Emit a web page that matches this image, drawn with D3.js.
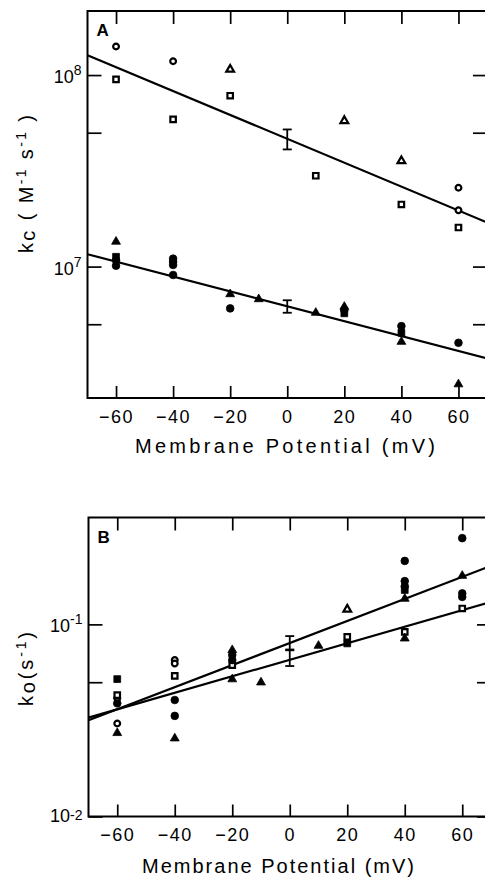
<!DOCTYPE html>
<html>
<head>
<meta charset="UTF-8">
<title>kc and ko vs membrane potential</title>
<style>
  body { margin: 0; background: #fff; }
  svg text { font-family: "Liberation Sans", Arial, sans-serif; fill: #000; }
  .tick line { stroke: #000; stroke-width: 1.7; }
  .domain { display: none; }
</style>
</head>
<body>
<script src="https://cdn.jsdelivr.net/npm/d3@7"></script>
<script>
// ---- axis ticks ----
var mvTicks = [-60, -40, -20, 0, 20, 40, 60];
var kcTicks = [5e6, 1e7, 5e7, 1e8];
var koTicks = [1e-2, 5e-2, 1e-1];
var kcLabels = [{v: 1e8, exp: "8"}, {v: 1e7, exp: "7"}];
var koLabels = [{v: 1e-1, exp: "-1"}, {v: 1e-2, exp: "-2"}];

// ---- panel A: kc (M-1 s-1), [mV, value] ----
var kcOpenCircle = [[-60, 1.41e8], [-40, 1.18e8], [60, 2.58e7], [60, 1.97e7]];
var kcOpenSquare = [[-60, 9.5e7], [-40, 5.87e7], [-20, 7.8e7], [10, 2.98e7], [40, 2.11e7], [60, 1.6e7]];
var kcOpenTri = [[-20, 1.07e8], [20, 5.77e7], [40, 3.56e7]];
var kcFillCircle = [[-60, 1.08e7], [-60, 1.01e7], [-40, 1.1e7], [-40, 1.06e7], [-40, 1.02e7], [-40, 9.04e6],
                    [-20, 6.05e6], [20, 5.93e6], [40, 4.89e6], [60, 4.0e6]];
var kcFillSquare = [[-60, 1.125e7], [20, 5.7e6], [40, 4.51e6]];
var kcFillTri = [[-60, 1.35e7], [-20, 7.18e6], [-10, 6.76e6], [10, 5.74e6], [20, 6.17e6], [40, 4.05e6], [60, 2.43e6]];
var kcFitUpper = [[-70, 1.27e8], [70, 1.70e7]];
var kcFitLower = [[-70, 1.16e7], [70, 3.32e6]];
var kcErr = [[0, 4.09e7, 5.2e7], [0, 5.74e6, 6.67e6]];   // mV, low, high

// ---- panel B: ko (s-1) ----
var koOpenCircle = [[-60, 0.0412], [-60, 0.0305], [-40, 0.0652], [-40, 0.0626]];
var koOpenSquare = [[-60, 0.0428], [-40, 0.054], [-20, 0.0614], [20, 0.0862], [40, 0.0915], [60, 0.121]];
var koOpenTri = [[20, 0.1197]];
var koFillCircle = [[-60, 0.0388], [-40, 0.0404], [-40, 0.0334], [-20, 0.0692], [-20, 0.0652],
                    [40, 0.214], [40, 0.168], [40, 0.158], [60, 0.281], [60, 0.145], [60, 0.139]];
var koFillSquare = [[-60, 0.0519], [20, 0.0796], [40, 0.151]];
var koFillTri = [[-60, 0.0272], [-40, 0.0255], [-20, 0.0735], [-20, 0.0518], [-10, 0.0499], [10, 0.0774],
                 [40, 0.136], [40, 0.0845], [60, 0.179]];
var koFitSteep = [[-70, 0.0317], [70, 0.2018]];
var koFitShallow = [[-70, 0.0327], [70, 0.131]];
var koErr = [[0, 0.074, 0.0869], [0, 0.0607, 0.0733]];

var svg = d3.select("body").append("svg")
    .attr("width", 485)
    .attr("height", 879);

function drawPanel(p) {
    var x = d3.scaleLinear().domain([-70, 70]).range(p.xr);
    var y = d3.scaleLog().domain(p.yd).range(p.yr);
    var g = svg.append("g");

    g.append("clipPath").attr("id", p.id + "clip")
        .append("rect")
        .attr("x", p.xr[0]).attr("y", p.yr[1])
        .attr("width", p.xr[1] - p.xr[0]).attr("height", p.yr[0] - p.yr[1]);

    // inward ticks on all four sides
    g.append("g").attr("transform", "translate(0," + p.yr[0] + ")")
        .call(d3.axisBottom(x).tickValues(mvTicks).tickSizeInner(-12).tickSizeOuter(0).tickPadding(12)
            .tickFormat(d3.format("d")))
        .selectAll("text")
        .style("font-size", "18px")
        .style("letter-spacing", "1.5px");
    g.append("g").attr("transform", "translate(0," + p.yr[1] + ")")
        .call(d3.axisTop(x).tickValues(mvTicks).tickSizeInner(-13).tickSizeOuter(0).tickFormat(""));
    g.append("g").attr("transform", "translate(" + p.xr[0] + ",0)")
        .call(d3.axisLeft(y).tickValues(p.yTicks).tickSizeInner(-14).tickSizeOuter(0).tickFormat(""));
    g.append("g").attr("transform", "translate(" + p.xr[1] + ",0)")
        .call(d3.axisRight(y).tickValues(p.yTicks).tickSizeInner(-14).tickSizeOuter(0).tickFormat(""));

    // frame
    g.append("rect")
        .attr("x", p.xr[0]).attr("y", p.yr[1])
        .attr("width", p.xr[1] - p.xr[0]).attr("height", p.yr[0] - p.yr[1])
        .attr("fill", "none").attr("stroke", "#000").attr("stroke-width", 2);

    // decade labels with superscripts
    p.labels.forEach(function (d) {
        var t = g.append("text")
            .attr("x", p.xr[0] - 6)
            .attr("y", y(d.v) + (d.v === p.yd[0] ? 5 : 8))
            .attr("text-anchor", "end")
            .style("font-size", "18px");
        t.append("tspan").text("10");
        t.append("tspan").attr("dy", d.v === p.yd[0] ? -2 : -8).style("font-size", "14px").text(d.exp);
    });

    // fit lines
    var line = d3.line().x(function (d) { return x(d[0]); }).y(function (d) { return y(d[1]); });
    p.fits.forEach(function (f) {
        g.append("path").datum(f)
            .attr("clip-path", "url(#" + p.id + "clip)")
            .attr("fill", "none").attr("stroke", "#000").attr("stroke-width", 2.2)
            .attr("d", line);
    });

    // error bars
    p.err.forEach(function (e) {
        var cx = x(e[0]);
        g.append("line").attr("x1", cx).attr("x2", cx).attr("y1", y(e[1])).attr("y2", y(e[2]))
            .attr("stroke", "#000").attr("stroke-width", 1.8);
        [e[1], e[2]].forEach(function (v) {
            g.append("line").attr("x1", cx - 4.5).attr("x2", cx + 4.5).attr("y1", y(v)).attr("y2", y(v))
                .attr("stroke", "#000").attr("stroke-width", 1.8);
        });
    });

    // markers
    var kinds = [
        {data: p.oc, type: d3.symbolCircle, size: 26, filled: false},
        {data: p.os, type: d3.symbolSquare, size: 30, filled: false},
        {data: p.ot, type: d3.symbolTriangle, size: 26, filled: false},
        {data: p.fc, type: d3.symbolCircle, size: 46, filled: true},
        {data: p.fs, type: d3.symbolSquare, size: 46, filled: true},
        {data: p.ft, type: d3.symbolTriangle, size: 34, filled: true}
    ];
    kinds.forEach(function (k) {
        g.selectAll(null).data(k.data).enter().append("path")
            .attr("transform", function (d) { return "translate(" + x(d[0]) + "," + y(d[1]) + ")"; })
            .attr("d", d3.symbol().type(k.type).size(k.size))
            .attr("fill", k.filled ? "#000" : "#fff")
            .attr("stroke", "#000")
            .attr("stroke-width", k.filled ? 0.8 : 2.2);
    });

    // panel letter
    g.append("text").attr("x", p.xr[0] + 9).attr("y", p.yr[1] + 25)
        .style("font-size", "17px").style("font-weight", "bold").text(p.letter);

    // x title
    g.append("text").attr("x", p.titleX).attr("y", p.titleY)
        .attr("text-anchor", "middle")
        .attr("textLength", p.titleW).attr("lengthAdjust", "spacing")
        .style("font-size", "20px")
        .text("Membrane Potential (mV)");

    // y title, rotated
    var yt = g.append("text")
        .attr("transform", "translate(" + p.yTitleX + "," + p.yTitleY + ") rotate(-90)")
        .attr("text-anchor", "middle")
        .attr("textLength", p.yTitleW).attr("lengthAdjust", "spacing")
        .style("font-size", "20px");
    p.yTitle.forEach(function (s) {
        var ts = yt.append("tspan").text(s.t);
        if (s.dy) ts.attr("dy", s.dy);
        if (s.fs) ts.style("font-size", s.fs);
    });
}

drawPanel({
    id: "A", letter: "A",
    xr: [87.5, 487], yr: [398, 11], yd: [2.06e6, 2.16e8],
    yTicks: kcTicks, labels: kcLabels,
    fits: [kcFitUpper, kcFitLower], err: kcErr,
    oc: kcOpenCircle, os: kcOpenSquare, ot: kcOpenTri,
    fc: kcFillCircle, fs: kcFillSquare, ft: kcFillTri,
    titleX: 285, titleY: 453, titleW: 300,
    yTitleX: 33, yTitleY: 184, yTitleW: 138,
    yTitle: [{t: "k"}, {t: "c", dy: 2}, {t: "  ( M", dy: -2}, {t: "-1", dy: -7, fs: "14px"},
             {t: "  s", dy: 7}, {t: "-1", dy: -7, fs: "14px"}, {t: " )", dy: 7}]
});

drawPanel({
    id: "B", letter: "B",
    xr: [88.5, 491], yr: [816.5, 517.5], yd: [0.01, 0.36],
    yTicks: koTicks, labels: koLabels,
    fits: [koFitSteep, koFitShallow], err: koErr,
    oc: koOpenCircle, os: koOpenSquare, ot: koOpenTri,
    fc: koFillCircle, fs: koFillSquare, ft: koFillTri,
    titleX: 278, titleY: 873, titleW: 272,
    yTitleX: 33, yTitleY: 669, yTitleW: 74,
    yTitle: [{t: "k"}, {t: "o", dy: 2}, {t: "(s", dy: -2}, {t: "-1", dy: -7, fs: "14px"}, {t: ")", dy: 7}]
});
</script>
</body>
</html>
